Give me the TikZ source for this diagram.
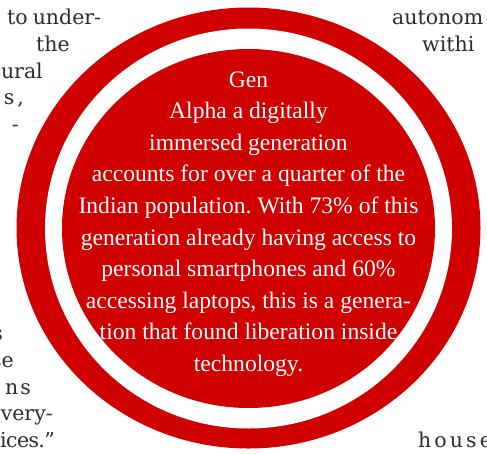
\documentclass[tikz,border=0pt]{standalone}
\usepackage{fontspec}
\setmainfont{Liberation Serif}
\newfontfamily\bodyfont{DejaVu Serif}
\newfontfamily\circfont{Liberation Serif}
\definecolor{gared}{RGB}{208,0,0}
\definecolor{bodygray}{RGB}{45,45,45}
\frenchspacing
\begin{document}
\begin{tikzpicture}[x=1pt,y=-1pt,
  bodytext/.style={inner sep=0pt,text=bodygray,font=\bodyfont\fontsize{20.5}{24}\selectfont},
  circtext/.style={inner sep=0pt,text=white,align=center,font=\circfont\fontsize{23.6}{31.6}\selectfont}]
\useasboundingbox (0,0) rectangle (487,453);
\clip (0,0) rectangle (487,453);
\fill[white] (0,0) rectangle (487,453);
% surrounding body text
\node[bodytext,anchor=base west] (t1) at (7,24) {to\hspace{5pt}under-};
\node[bodytext,anchor=base west] (t2) at (36,51) {the};
\node[bodytext,anchor=base east] (t3) at (43,78) {ural};
\node[bodytext,anchor=base east] (t4) at (24,104) {s\hspace{3pt},};
\node[bodytext,anchor=base east] (t5) at (19,131) {-};
\node[bodytext,anchor=base east] (t6) at (3,340) {s};
\node[bodytext,anchor=base east] (t7) at (14,367) {se};
\node[bodytext,anchor=base east] (t8) at (31,394) {n\hspace{2pt}s};
\node[bodytext,anchor=base east] (t9) at (53,420) {very-};
\node[bodytext,anchor=base east] (t10) at (55,447) {\addfontfeature{LetterSpace=-3}ices.”};
\node[bodytext,anchor=base west] (r1) at (392,24) {autonom};
\node[bodytext,anchor=base west] (r2) at (422,51) {withi};
\node[bodytext,anchor=base west] (r3) at (418,447) {\addfontfeature{LetterSpace=15}house};
% red rings
\fill[gared] (248.5,228) ellipse [x radius=232pt, y radius=220.5pt];
\fill[white] (248.5,228.5) ellipse [x radius=203.5pt, y radius=200pt];
\fill[gared] (248.5,228.5) ellipse [x radius=186.5pt, y radius=179.5pt];
% text in circle
\node[circtext,anchor=base] (quote) at (248.5,371.4) {Gen\\
Alpha a digitally\\
immersed generation\\
accounts for over a quarter of the\\
Indian population. With 73\% of this\\
generation already having access to\\
personal smartphones and 60\%\\
accessing laptops, this is a genera-\\
tion that found liberation inside\\
technology.};
\end{tikzpicture}
\end{document}
